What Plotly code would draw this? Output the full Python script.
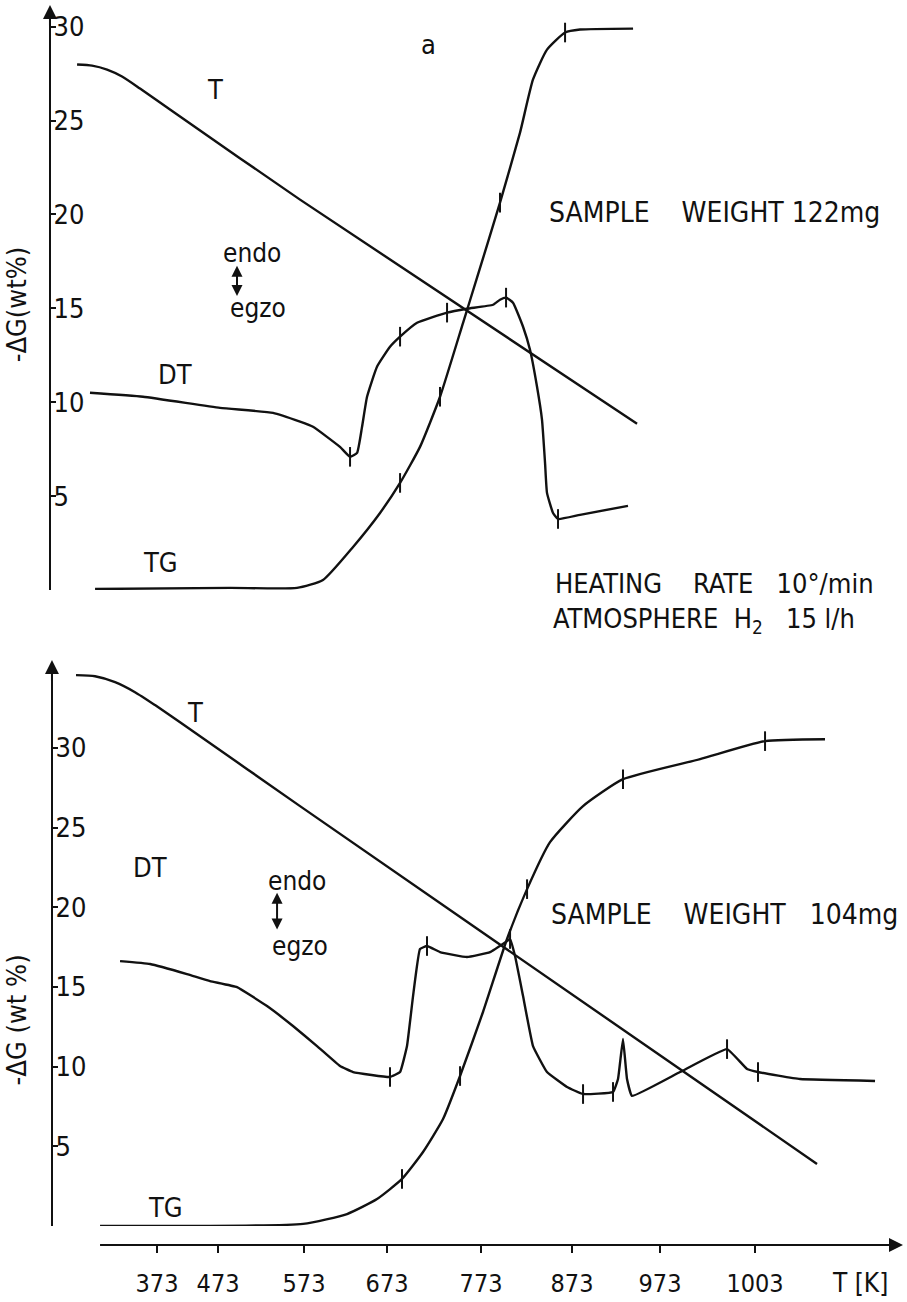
import plotly.graph_objects as go

# ---------------- data (x: temperature scale position in K, y: -dG wt%) ----------------
# Panel a
a_T_x = [318.0, 334.8, 351.7, 368.5, 388.7, 422.4, 568.5, 947.2]
a_T_y = [27.99, 27.93, 27.72, 27.35, 26.71, 25.59, 20.79, 8.85]

a_DT_x = [332.5, 392.1, 478.6, 538.2, 568.5, 583.1, 613.4, 624.7, 632.6, 638.2, 643.8, 655.0,
          669.6, 680.9, 700.0, 733.7, 756.1, 785.4, 793.2, 800.0, 807.8, 819.1, 826.9, 834.8,
          840.4, 843.8, 846.0, 852.8, 858.4, 883.1, 937.0]
a_DT_y = [10.50, 10.29, 9.70, 9.43, 8.96, 8.69, 7.62, 7.09, 7.30, 8.69, 10.29, 11.89,
          12.95, 13.49, 14.23, 14.77, 14.98, 15.19, 15.46, 15.57, 15.30, 14.02, 12.79, 10.82,
          9.06, 6.77, 5.17, 4.10, 3.78, 4.00, 4.48]
a_DT_tick_x = [624.7, 680.9, 733.7, 800.0, 858.4]
a_DT_tick_y = [7.09, 13.49, 14.77, 15.57, 3.78]

a_TG_x = [338.2, 489.9, 565.1, 594.3, 628.1, 658.4, 680.9, 703.3, 725.8, 751.7, 767.4,
          793.2, 815.7, 830.3, 846.0, 866.3, 883.1, 942.7]
a_TG_y = [0.05, 0.11, 0.11, 0.53, 2.29, 4.10, 5.70, 7.62, 10.29, 14.23, 16.63,
          20.63, 24.36, 27.19, 28.78, 29.69, 29.85, 29.90]
a_TG_tick_x = [680.9, 725.8, 793.2, 866.3]
a_TG_tick_y = [5.70, 10.29, 20.63, 29.69]

# Panel b
b_T_x = [316.8, 338.2, 360.7, 383.1, 405.6, 433.7, 568.5, 1149.4]
b_T_y = [34.57, 34.50, 34.13, 33.50, 32.69, 31.62, 26.35, 3.89]

b_DT_x = [366.3, 400.0, 441.5, 467.4, 497.7, 531.4, 560.6, 587.6, 613.4, 628.1, 669.6,
          680.9, 688.7, 695.5, 703.3, 711.2, 725.8, 756.1, 782.0, 801.1, 804.5, 810.1,
          819.1, 830.3, 846.0, 868.5, 886.5, 920.2, 925.8, 931.4, 935.9, 941.5, 995.5,
          1048.3, 1070.8, 1083.1, 1130.3, 1214.6]
b_DT_y = [16.62, 16.44, 15.81, 15.37, 14.99, 13.80, 12.55, 11.29, 10.04, 9.66, 9.35,
          9.66, 11.29, 14.43, 17.38, 17.57, 17.19, 16.88, 17.19, 17.88, 18.01, 16.94,
          14.43, 11.29, 9.66, 8.72, 8.28, 8.41, 9.22, 11.73, 9.22, 8.16, 9.66,
          11.10, 9.85, 9.66, 9.22, 9.10]
b_DT_tick_x = [669.6, 711.2, 804.5, 886.5, 920.2, 1048.3, 1083.1]
b_DT_tick_y = [9.35, 17.57, 18.01, 8.28, 8.41, 11.10, 9.66]

b_TG_x = [343.8, 571.9, 621.3, 655.0, 683.1, 706.7, 729.2, 748.3, 774.1, 801.1, 823.6,
          849.4, 886.5, 931.4, 1018.0, 1091.0, 1158.4]
b_TG_y = [0.0, 0.13, 0.75, 1.69, 2.95, 4.64, 6.71, 9.41, 13.43, 18.01, 21.14,
          24.09, 26.35, 28.04, 29.30, 30.43, 30.55]
b_TG_tick_x = [683.1, 748.3, 823.6, 931.4, 1091.0]
b_TG_tick_y = [2.95, 9.41, 21.14, 28.04, 30.43]

# axis ticks
x_tick_pos = [407.8, 476.4, 573.0, 666.3, 771.9, 874.1, 973.0, 1079.7]
x_tick_text = ["373", "473", "573", "673", "773", "873", "973", "1003"]
y_ticks = [5, 10, 15, 20, 25, 30]

FONT = "Liberation Sans Narrow, DejaVu Sans Condensed, Arial Narrow, sans-serif"
LW = 2.4
BLACK = "#111111"

fig = go.Figure()


def line(x, y, ya, shape="spline", smooth=0.5):
    fig.add_trace(go.Scatter(x=x, y=y, yaxis=ya, mode="lines",
                             line=dict(color=BLACK, width=LW, shape=shape, smoothing=smooth),
                             showlegend=False, hoverinfo="skip"))


def ticks(x, y, ya):
    fig.add_trace(go.Scatter(x=x, y=y, yaxis=ya, mode="markers",
                             marker=dict(symbol="line-ns", size=14,
                                         line=dict(color=BLACK, width=2)),
                             showlegend=False, hoverinfo="skip"))


line(a_T_x, a_T_y, "y", smooth=0.6)
line(a_DT_x, a_DT_y, "y", smooth=0.4)
line(a_TG_x, a_TG_y, "y", smooth=0.5)
ticks(a_DT_tick_x, a_DT_tick_y, "y")
ticks(a_TG_tick_x, a_TG_tick_y, "y")

line(b_T_x, b_T_y, "y2", smooth=0.6)
line(b_DT_x, b_DT_y, "y2", smooth=0.3)
line(b_TG_x, b_TG_y, "y2", smooth=0.5)
ticks(b_DT_tick_x, b_DT_tick_y, "y2")
ticks(b_TG_tick_x, b_TG_tick_y, "y2")

X_MIN, X_MAX = 231.4, 1250.5
X_AXIS_Y = 0.0438

axis_common = dict(showgrid=False, zeroline=False, showline=True, linecolor=BLACK,
                   linewidth=2, ticks="inside", ticklen=5, tickwidth=2, tickcolor=BLACK,
                   tickvals=y_ticks, ticklabelposition="inside",
                   tickfont=dict(family=FONT, size=27, color=BLACK), anchor="free")

fig.update_layout(
    width=907, height=1302,
    margin=dict(l=0, r=0, t=0, b=0),
    paper_bgcolor="white", plot_bgcolor="white",
    font=dict(family=FONT, color=BLACK),
    xaxis=dict(domain=[0, 1], range=[X_MIN, X_MAX], showgrid=False, zeroline=False,
               showline=False, anchor="free", position=X_AXIS_Y,
               tickvals=x_tick_pos, ticktext=x_tick_text, ticks="outside", ticklen=7,
               tickwidth=2, tickcolor=BLACK, ticklabelstandoff=9,
               tickfont=dict(family=FONT, size=25, color=BLACK)),
    yaxis=dict(domain=[0.5469, 0.9939], range=[0, 31.0], position=0.0551, **axis_common),
    yaxis2=dict(domain=[0.0584, 0.4916], range=[0, 35.4], position=0.0573, **axis_common),
)

# x axis line with arrow
fig.add_shape(type="line", xref="x", yref="paper", x0=343.8, x1=1240, y0=X_AXIS_Y, y1=X_AXIS_Y,
              line=dict(color=BLACK, width=2))
fig.add_annotation(xref="paper", yref="paper", x=0.9956, y=X_AXIS_Y, ax=-22, ay=0, text="",
                   showarrow=True, arrowhead=2, arrowsize=1.4, arrowwidth=2, arrowcolor=BLACK)
# y axis arrows
fig.add_annotation(xref="paper", yref="paper", x=0.0551, y=0.9962, ax=0, ay=22, text="",
                   showarrow=True, arrowhead=2, arrowsize=1.4, arrowwidth=2, arrowcolor=BLACK)
fig.add_annotation(xref="paper", yref="paper", x=0.0573, y=0.4931, ax=0, ay=22, text="",
                   showarrow=True, arrowhead=2, arrowsize=1.4, arrowwidth=2, arrowcolor=BLACK)


def txt(x, y, s, yref, size=27, xanchor="center", xref="x"):
    fig.add_annotation(xref=xref, yref=yref, x=x, y=y, text=s, showarrow=False,
                       xanchor=xanchor, yanchor="middle",
                       font=dict(family=FONT, size=size, color=BLACK))


NB = "\u00a0"
# panel a texts
txt(712.3, 29.05, "a", "y")
txt(473.0, 26.65, "T", "y")
txt(428.1, 11.46, "DT", "y")
txt(411.2, 1.44, "TG", "y")
txt(514.6, 17.96, "endo", "y", size=26)
txt(521.3, 15.0, "egzo", "y", size=26)
txt(1033.7, 20.10, f"SAMPLE{NB*4}WEIGHT{NB}122mg", "y", size=28)
txt(852.8, 0.5522, f"HEATING{NB*4}RATE{NB*3}10°/min", "paper", size=27, xanchor="left")
txt(850.5, 0.5238, f"ATMOSPHERE{NB*2}H<sub>2</sub>{NB*3}15{NB}l/h", "paper", size=27,
    xanchor="left")
fig.add_annotation(xref="x", yref="y", axref="x", ayref="y", x=497.7, y=15.65, ax=497.7, ay=17.35,
                   text="", showarrow=True, arrowhead=2, arrowside="end+start",
                   arrowwidth=2, arrowsize=1.1, arrowcolor=BLACK)

# panel b texts
txt(737.0, 35.57, "b", "y2")
txt(450.5, 32.25, "T", "y2")
txt(400.0, 22.52, "DT", "y2")
txt(416.8, 1.19, "TG", "y2")
txt(565.1, 21.64, "endo", "y2", size=26)
txt(568.5, 17.55, "egzo", "y2", size=26)
txt(1044.9, 19.57, f"SAMPLE{NB*4}WEIGHT{NB*3}104mg", "y2", size=28)
fig.add_annotation(xref="x", yref="y2", axref="x", ayref="y2", x=542.7, y=18.6, ax=542.7, ay=21.0,
                   text="", showarrow=True, arrowhead=2, arrowside="end+start",
                   arrowwidth=2, arrowsize=1.1, arrowcolor=BLACK)

# axis titles and x unit
fig.add_annotation(xref="paper", yref="paper", x=0.018, y=0.7665, text="-ΔG(wt%)", textangle=-90,
                   xanchor="center", yanchor="middle",
                   showarrow=False, font=dict(family=FONT, size=27, color=BLACK))
fig.add_annotation(xref="paper", yref="paper", x=0.018, y=0.2165, text="-ΔG (wt %)", textangle=-90,
                   xanchor="center", yanchor="middle",
                   showarrow=False, font=dict(family=FONT, size=27, color=BLACK))
txt(1197.7, 0.0146, "T [K]", "paper", size=26)

fig.write_html("out.html", config={"displayModeBar": False},
               post_script="document.body.style.margin='0px';")
